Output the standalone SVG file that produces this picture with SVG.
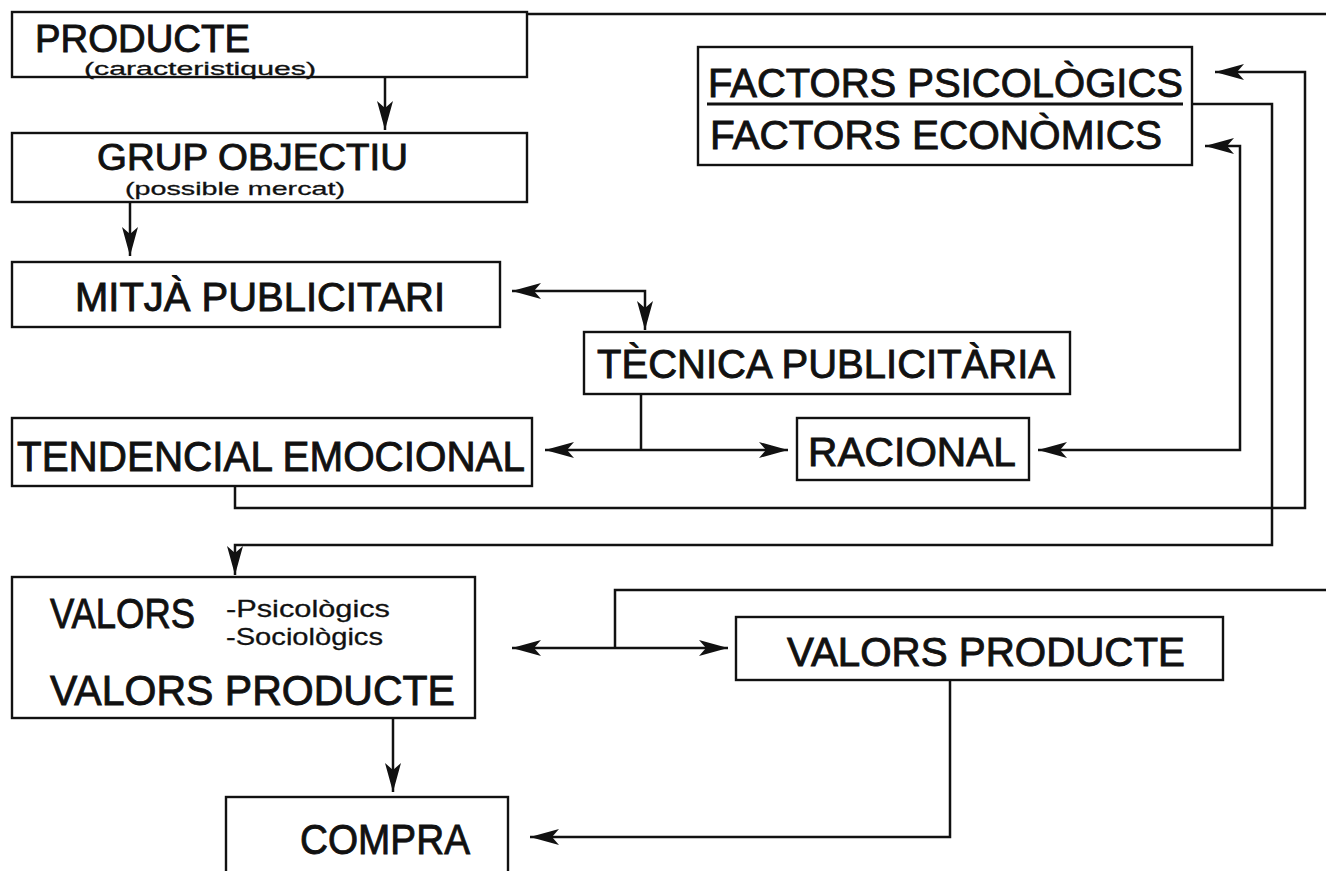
<svg xmlns="http://www.w3.org/2000/svg" width="1326" height="871" viewBox="0 0 1326 871">
<style>
.box{fill:#fff;stroke:#111;stroke-width:2.4}
.t{font-family:"Liberation Sans",Arial,sans-serif;fill:#111;stroke:#111;stroke-width:0.9}
.s{font-family:"Liberation Sans",Arial,sans-serif;fill:#111;stroke:#111;stroke-width:0.3}
.c{fill:none;stroke:#111;stroke-width:2.5}
</style>
<defs>
<marker id="ah" markerUnits="userSpaceOnUse" markerWidth="30" markerHeight="18" refX="29" refY="9" orient="auto-start-reverse" viewBox="0 0 30 18">
<path d="M0,1 L29,9 L0,17 L7,9 z" fill="#111"/>
</marker>
</defs>
<rect width="1326" height="871" fill="#fff"/>
<g id="connectors">
<path class="c" d="M527,14 H1326"/>
<path class="c" d="M385,77 V130" marker-end="url(#ah)"/>
<path class="c" d="M130,202 V256" marker-end="url(#ah)"/>
<path class="c" d="M512,291 H645 V330" marker-start="url(#ah)" marker-end="url(#ah)"/>
<path class="c" d="M641,394 V450"/>
<path class="c" d="M545,450 H788" marker-start="url(#ah)" marker-end="url(#ah)"/>
<path class="c" d="M1215,72 H1305 V508 H235 V486" marker-start="url(#ah)"/>
<path class="c" d="M1192,104 H1272 V545 H235 V575" marker-end="url(#ah)"/>
<path class="c" d="M1205,146 H1240 V450 H1038" marker-start="url(#ah)" marker-end="url(#ah)"/>
<path class="c" d="M512,648 H728" marker-start="url(#ah)" marker-end="url(#ah)"/>
<path class="c" d="M615,648 V590 H1326"/>
<path class="c" d="M393,718 V792" marker-end="url(#ah)"/>
<path class="c" d="M950,680 V837 H530" marker-end="url(#ah)"/>
</g>
<g id="producte">
<rect class="box" x="12" y="12" width="515" height="65"/>
<text class="t" x="35" y="52" font-size="38" textLength="215" lengthAdjust="spacingAndGlyphs">PRODUCTE</text>
<text class="s" x="84" y="75" font-size="19" textLength="232" lengthAdjust="spacingAndGlyphs">(caracteristiques)</text>
</g>
<g id="grup">
<rect class="box" x="12" y="133" width="515" height="69"/>
<text class="t" x="97" y="170" font-size="36" textLength="311" lengthAdjust="spacingAndGlyphs">GRUP OBJECTIU</text>
<text class="s" x="125" y="195" font-size="19" textLength="220" lengthAdjust="spacingAndGlyphs">(possible mercat)</text>
</g>
<g id="mitja">
<rect class="box" x="12" y="262" width="488" height="65"/>
<text class="t" x="75" y="311" font-size="40" textLength="370" lengthAdjust="spacingAndGlyphs">MITJÀ PUBLICITARI</text>
</g>
<g id="tecnica">
<rect class="box" x="584" y="332" width="486" height="62"/>
<text class="t" x="597" y="378" font-size="40" textLength="458" lengthAdjust="spacingAndGlyphs">TÈCNICA PUBLICITÀRIA</text>
</g>
<g id="tendencial">
<rect class="box" x="12" y="418" width="520" height="68"/>
<text class="t" x="17" y="471" font-size="42" textLength="508" lengthAdjust="spacingAndGlyphs">TENDENCIAL EMOCIONAL</text>
</g>
<g id="racional">
<rect class="box" x="797" y="418" width="232" height="62"/>
<text class="t" x="808" y="466" font-size="40" textLength="208" lengthAdjust="spacingAndGlyphs">RACIONAL</text>
</g>
<g id="factors">
<rect class="box" x="698" y="47" width="494" height="118"/>
<text class="t" x="708" y="97" font-size="40" textLength="475" lengthAdjust="spacingAndGlyphs">FACTORS PSICOLÒGICS</text>
<line x1="707" y1="104" x2="1183" y2="104" stroke="#111" stroke-width="3"/>
<text class="t" x="710" y="149" font-size="40" textLength="452" lengthAdjust="spacingAndGlyphs">FACTORS ECONÒMICS</text>
</g>
<g id="valors">
<rect class="box" x="12" y="577" width="463" height="141"/>
<text class="t" x="50" y="628" font-size="42" textLength="145" lengthAdjust="spacingAndGlyphs">VALORS</text>
<text class="s" x="226" y="617" font-size="24" textLength="164" lengthAdjust="spacingAndGlyphs">-Psicològics</text>
<text class="s" x="226" y="645" font-size="24" textLength="157" lengthAdjust="spacingAndGlyphs">-Sociològics</text>
<text class="t" x="50" y="705" font-size="42" textLength="405" lengthAdjust="spacingAndGlyphs">VALORS  PRODUCTE</text>
</g>
<g id="valors-producte">
<rect class="box" x="736" y="617" width="487" height="63"/>
<text class="t" x="787" y="666" font-size="40" textLength="398" lengthAdjust="spacingAndGlyphs">VALORS  PRODUCTE</text>
</g>
<g id="compra">
<rect class="box" x="226" y="797" width="282" height="80"/>
<text class="t" x="300" y="854" font-size="43" textLength="170" lengthAdjust="spacingAndGlyphs">COMPRA</text>
</g>
</svg>
